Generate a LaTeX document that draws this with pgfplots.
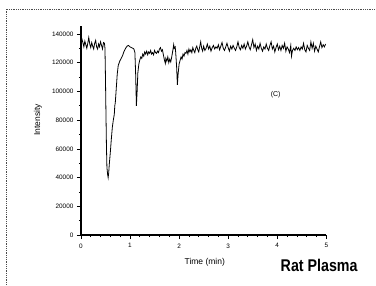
\documentclass[border=0pt]{standalone}
\usepackage{fontspec}
\setmainfont{Liberation Sans}
\usepackage{pgfplots}
\pgfplotsset{compat=1.18}
\begin{document}
\begin{tikzpicture}[x=1pt,y=1pt]
\path (0,0) rectangle (376,285);
\draw[densely dotted, line width=0.8pt, black!70] (6,0) -- (6,276) -- (376,276);
\begin{axis}[
  scale only axis,
  width=245.7pt, height=209.3pt,
  at={(81pt,49.7pt)}, anchor=south west,
  xmin=0, xmax=5, ymin=0, ymax=145550,
  axis x line*=bottom, axis y line*=left,
  axis line style={line width=1.2pt},
  xtick={0,1,2,3,4,5},
  ytick={0,20000,40000,60000,80000,100000,120000,140000},
  minor x tick num=4, minor y tick num=1,
  tick align=outside,
  major tick length=4pt, minor tick length=2pt,
  every tick/.style={line width=0.7pt, black},
  scaled y ticks=false,
  /pgf/number format/assume math mode=true,
  yticklabel={\pgfmathprintnumber[fixed,1000 sep={}]{\tick}},
  ticklabel style={font=\fontsize{6.4}{7}\selectfont},
  xticklabel style={yshift=-1pt},
  clip=false,
]
\addplot[black, line width=0.8pt] coordinates {
(0.00,133000)(0.02,136500)(0.04,134000)(0.06,131000)(0.08,135000)(0.10,132500)
(0.12,130000)(0.14,133500)(0.16,137500)(0.18,133000)(0.20,130500)(0.22,134000)
(0.24,131500)(0.26,129500)(0.28,133500)(0.30,135500)(0.32,131000)(0.34,129500)
(0.36,133000)(0.38,131000)(0.40,134500)(0.42,132000)(0.44,129500)(0.46,134000)
(0.48,133500)(0.49,130000)(0.50,110000)(0.51,85000)(0.52,62000)(0.53,47000)
(0.545,42000)(0.555,40000)(0.565,43000)(0.58,50000)(0.60,58000)(0.62,67000)
(0.64,75000)(0.66,80000)(0.68,84000)(0.69,90000)(0.70,92000)(0.72,102000)
(0.74,112000)(0.76,118000)(0.79,121000)(0.82,123000)(0.85,125000)(0.88,128000)
(0.91,130000)(0.94,131500)(0.97,132000)(1.00,131000)(1.03,130500)(1.06,130000)
(1.08,129500)(1.10,127000)(1.115,112000)(1.13,90000)(1.145,100000)(1.16,113000)
(1.18,119000)(1.20,122000)(1.22,124000)(1.24,123000)(1.26,126000)(1.28,124500)
(1.30,127500)(1.32,126000)(1.34,128000)(1.36,125500)(1.38,127500)(1.40,126500)
(1.42,128500)(1.44,126000)(1.46,127000)(1.48,125500)(1.50,128500)(1.52,127000)
(1.54,126500)(1.56,128000)(1.58,127000)(1.60,129500)(1.62,130500)(1.64,128000)
(1.66,129000)(1.68,125500)(1.70,122000)(1.72,119500)(1.73,123000)(1.75,121000)
(1.77,124000)(1.79,120000)(1.81,122500)(1.83,120500)(1.85,124000)(1.87,128000)
(1.89,132500)(1.90,130000)(1.92,131000)(1.93,127500)(1.95,117000)(1.965,104500)
(1.98,112000)(2.00,119000)(2.02,121500)(2.04,124000)(2.06,122500)(2.08,126000)
(2.10,124500)(2.12,127000)(2.14,126500)(2.16,128500)(2.18,126000)(2.20,129500)
(2.22,127500)(2.24,129000)(2.26,127000)(2.28,130500)(2.30,128500)(2.32,127000)
(2.34,130000)(2.36,131500)(2.38,129000)(2.40,127500)(2.42,131000)(2.44,134500)
(2.46,130000)(2.48,128000)
(2.500,131500)(2.525,128500)(2.550,130000)(2.575,133000)(2.600,129500)(2.625,131500)
(2.650,128000)(2.675,130500)(2.700,132000)(2.725,129500)(2.750,131000)(2.775,130000)
(2.800,132500)(2.825,129000)(2.850,131500)(2.875,134000)(2.900,130000)(2.925,128500)
(2.950,131000)(2.975,133500)(3.000,130500)(3.025,128000)(3.050,131500)(3.075,129500)
(3.100,132000)(3.125,130000)(3.150,128500)(3.175,131000)(3.200,134500)(3.225,130500)
(3.250,129000)(3.275,132000)(3.300,130000)(3.325,133000)(3.350,129500)(3.375,131500)
(3.400,134500)(3.425,131000)(3.450,129000)(3.475,132500)(3.500,136000)(3.525,130500)
(3.550,133000)(3.575,128500)(3.600,131500)(3.625,129500)(3.650,133500)(3.675,130000)
(3.700,128000)(3.725,131000)(3.750,129500)(3.775,133000)(3.800,130000)(3.825,128500)
(3.850,132000)(3.875,134500)(3.900,129500)(3.925,131500)(3.950,127500)(3.975,130500)
(4.000,133000)(4.025,129000)(4.050,131500)(4.075,128500)(4.100,132000)(4.125,130000)
(4.150,133500)(4.175,128000)(4.200,131000)(4.225,129500)(4.250,127000)(4.275,132000)
(4.290,124500)(4.310,128500)(4.335,130000)(4.360,128500)(4.385,131000)(4.410,129000)
(4.435,130500)(4.460,128500)(4.485,131000)(4.510,129500)(4.535,133500)(4.560,129000)
(4.585,127500)(4.610,132000)(4.635,130000)(4.660,128500)(4.685,134500)(4.710,130000)
(4.735,133500)(4.760,128000)(4.785,131500)(4.810,129500)(4.835,127500)(4.860,131000)
(4.885,134500)(4.910,130500)(4.935,132500)(4.960,131000)(4.985,133000)
};
\end{axis}
\node[font=\fontsize{8.5}{9}\selectfont, rotate=90] at (38,165) {Intensity};
\node[font=\fontsize{8.5}{9}\selectfont] at (205,22.7) {Time (min)};
\node[font=\fontsize{7}{8}\selectfont] at (276,190.7) {(C)};
\node[font=\bfseries\fontsize{17}{18}\selectfont, xscale=0.84] at (319.5,19.3) {Rat Plasma};
\end{tikzpicture}
\end{document}
